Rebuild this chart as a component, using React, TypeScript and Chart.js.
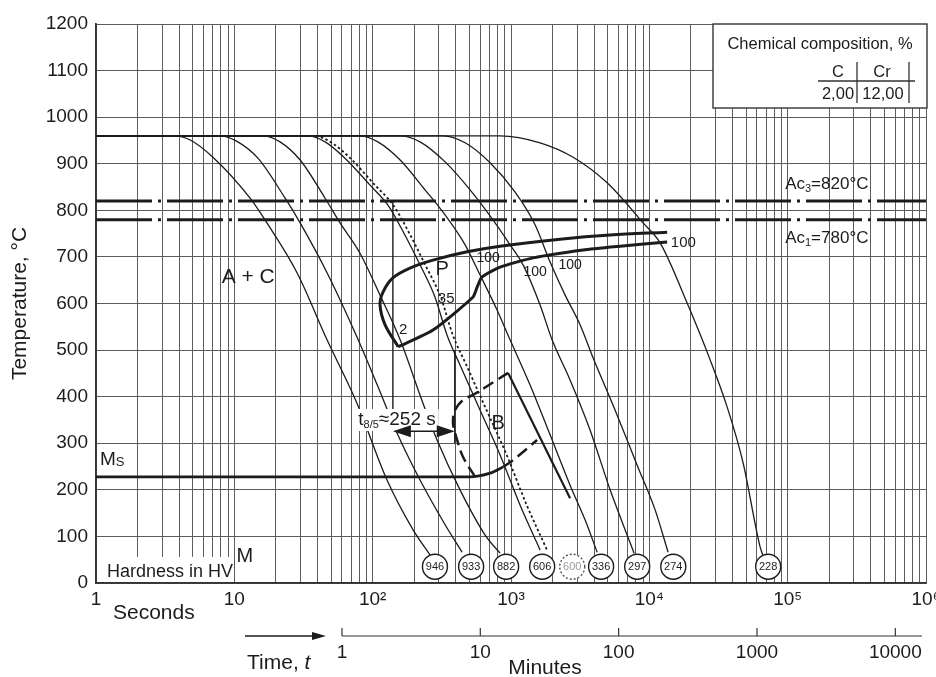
import React, { useEffect, useRef } from 'react';
import { Chart, registerables } from 'chart.js';

Chart.register(...registerables);

const FONT = "'Liberation Sans', Arial, Helvetica, sans-serif";
const NARROW = "'Liberation Sans Narrow', 'Liberation Sans', Arial, sans-serif";
const INK = '#1c1c1c';
const GRID = '#5c5c5c';

// ---------- data : time [s], temperature [°C] ----------
const curve946: [number, number][] = [[1, 960], [3.7, 960], [4.8, 951], [7.0, 914], [13, 826], [17.2, 773], [28.4, 666], [46.8, 522], [77, 386], [127, 221], [196, 114], [260, 60]];
const curve933: [number, number][] = [[1, 960], [7.9, 960], [10.3, 949], [14.8, 912], [23.3, 826], [29.9, 773], [46.8, 666], [77, 528], [108, 425], [150, 322], [220, 221], [334, 125], [443, 66]];
const curve882: [number, number][] = [[1, 960], [16.1, 960], [21.4, 947], [29.9, 908], [45.3, 826], [58.1, 773], [81, 708], [113, 618], [158, 522], [231, 386], [292, 307], [428, 200], [650, 103], [834, 64]];
const curve606: [number, number][] = [[1, 960], [34.1, 960], [45.3, 947], [63.1, 912], [95.8, 854], [129, 811], [171, 747], [220, 683], [282, 614], [345, 532], [428, 468], [598, 371], [834, 275], [1164, 167], [1623, 71]];
const curve600: [number, number][] = [[1, 960], [37.2, 960], [49.4, 947], [68.8, 912], [104, 854], [141, 811], [187, 747], [240, 683], [310, 614], [380, 532], [475, 468], [666, 371], [930, 275], [1300, 167], [1820, 71]];
const curve336: [number, number][] = [[1, 960], [81, 960], [109, 947], [158, 908], [239, 844], [334, 790], [466, 726], [598, 661], [793, 586], [985, 522], [1374, 425], [1917, 318], [2673, 210], [3436, 135], [4197, 66]];
const curve297: [number, number][] = [[1, 960], [158, 960], [220, 947], [334, 904], [506, 844], [743, 779], [985, 726], [1223, 683], [1623, 597], [1982, 522], [2673, 436], [3733, 328], [5207, 200], [6469, 125], [7766, 64]];
const curve274: [number, number][] = [[1, 960], [323, 960], [466, 945], [706, 902], [1071, 839], [1493, 769], [1917, 689], [2462, 618], [3162, 554], [3926, 483], [5660, 371], [8163, 253], [11010, 157], [13670, 66]];
const curve228: [number, number][] = [[1, 960], [834, 960], [1623, 945], [2813, 914], [4955, 859], [9016, 773], [11970, 730], [18760, 601], [27520, 479], [36500, 378], [47620, 258], [63270, 77], [66500, 58]];

const hardnessLabels = ['946', '933', '882', '606', '600', '336', '297', '274', '228'];
const hardnessTimes = [282, 515, 922, 1680, 2770, 4480, 8170, 14900, 72300];
const hardnessDotted = [false, false, false, false, true, false, false, false, false];
const hardnessTemp = 35;

const ac3Temp = 820;
const ac1Temp = 780;

const pearliteStart: [number, number][] = [[153, 507], [123, 554], [113, 597], [119, 625], [140, 655], [186, 676], [273, 693], [482, 711], [834, 723], [2265, 738], [5207, 747], [13450, 753]];
const pearliteFinish: [number, number][] = [[153, 507], [273, 543], [532, 614], [569, 635], [618, 657], [834, 678], [1446, 698], [3320, 715], [6151, 723], [13450, 732]];

const msLine: [number, number][] = [[1, 228], [500, 228], [706, 236], [877, 249]];
const msDashed: [number, number][] = [[877, 249], [1036, 264], [1544, 307]];
const bainiteStart: [number, number][] = [[550, 228], [451, 270], [408, 307], [381, 343], [394, 371], [451, 393], [532, 404], [793, 436], [953, 451]];
const bainiteEnd: [number, number][] = [[953, 451], [2673, 182]];

const t85Left: [number, number][] = [[140, 820], [140, 345]];
const t85Right: [number, number][] = [[392, 500], [392, 300]];
const t85Arrow = { from: 140, to: 392, temp: 326 };

const xTickLabels: Record<string, string> = { '1': '1', '10': '10', '100': '10²', '1000': '10³', '10000': '10⁴', '100000': '10⁵', '1000000': '10⁶' };
const minuteTicks = [1, 10, 100, 1000, 10000];
const minuteTickLabels = ['1', '10', '100', '1000', '10000'];
const secondsPerMinute = 60;

const regionLabels = [
  { text: 'A + C', t: 12.6, T: 657, size: 21 },
  { text: 'P', t: 318, T: 672, size: 20 },
  { text: 'B', t: 807, T: 343, size: 20 },
  { text: '35', t: 340, T: 610, size: 15 },
  { text: '2', t: 166, T: 543, size: 15 },
  { text: '100', t: 683, T: 698, size: 14 },
  { text: '100', t: 1493, T: 668, size: 14 },
  { text: '100', t: 2673, T: 683, size: 14 },
];

// ---------- helpers ----------
type Part = { t: string; size: number; dy?: number; italic?: boolean };
function drawRich(ctx: CanvasRenderingContext2D, parts: Part[], x: number, y: number, align: 'left' | 'center' | 'right' = 'left') {
  let w = 0;
  for (const p of parts) {
    ctx.font = `${p.italic ? 'italic ' : ''}${p.size}px ${FONT}`;
    w += ctx.measureText(p.t).width;
  }
  let cx = align === 'left' ? x : align === 'center' ? x - w / 2 : x - w;
  ctx.textAlign = 'left';
  ctx.textBaseline = 'middle';
  for (const p of parts) {
    ctx.font = `${p.italic ? 'italic ' : ''}${p.size}px ${FONT}`;
    ctx.fillText(p.t, cx, y + (p.dy || 0));
    cx += ctx.measureText(p.t).width;
  }
  return w;
}

const overlayPlugin = {
  id: 'overlay',
  afterDraw(chart: any) {
    const { ctx, chartArea: ca } = chart;
    const xs = chart.scales.x;
    const ys = chart.scales.y;
    const px = (t: number) => xs.getPixelForValue(t);
    const py = (v: number) => ys.getPixelForValue(v);
    ctx.save();

    // caption area bottom-left
    ctx.fillStyle = '#fff';
    const hy = py(56);
    ctx.fillRect(ca.left + 1, hy, px(10) - ca.left - 2, ca.bottom - hy - 1);
    ctx.fillStyle = INK;
    drawRich(ctx, [{ t: 'Hardness in HV', size: 18 }], ca.left + 11, py(24), 'left');
    drawRich(ctx, [{ t: 'M', size: 20 }], px(11.9), py(57), 'center');

    // region labels
    for (const l of regionLabels) drawRich(ctx, [{ t: l.text, size: l.size }], px(l.t), py(l.T), 'center');
    drawRich(ctx, [{ t: '100', size: 15 }], px(14300), py(730), 'left');

    // Ms
    drawRich(ctx, [{ t: 'M', size: 19 }, { t: 'S', size: 13, dy: 3 }], ca.left + 4, py(265), 'left');

    // Ac labels
    drawRich(ctx, [{ t: 'Ac', size: 17 }, { t: '3', size: 11, dy: 5 }, { t: '=820°C', size: 17 }], px(95900), py(ac3Temp + 36), 'left');
    drawRich(ctx, [{ t: 'Ac', size: 17 }, { t: '1', size: 11, dy: 5 }, { t: '=780°C', size: 17 }], px(95900), py(ac1Temp - 39), 'left');

    // t8/5 annotation
    const ty = py(350);
    const tparts: Part[] = [{ t: 't', size: 19 }, { t: '8/5', size: 11, dy: 5 }, { t: '≈252 s', size: 19 }];
    let tw = 0;
    for (const p of tparts) { ctx.font = `${p.size}px ${FONT}`; tw += ctx.measureText(p.t).width; }
    const tcx = px(150);
    ctx.fillStyle = '#fff';
    ctx.fillRect(tcx - tw / 2 - 3, ty - 11, tw + 6, 22);
    ctx.fillStyle = INK;
    drawRich(ctx, tparts, tcx, ty, 'center');
    const ay = py(t85Arrow.temp);
    const ax1 = px(t85Arrow.from), ax2 = px(t85Arrow.to);
    ctx.strokeStyle = INK;
    ctx.lineWidth = 1.5;
    ctx.beginPath(); ctx.moveTo(ax1 + 12, ay); ctx.lineTo(ax2 - 12, ay); ctx.stroke();
    ctx.beginPath(); ctx.moveTo(ax1, ay); ctx.lineTo(ax1 + 18, ay - 6); ctx.lineTo(ax1 + 18, ay + 6); ctx.closePath(); ctx.fill();
    ctx.beginPath(); ctx.moveTo(ax2, ay); ctx.lineTo(ax2 - 18, ay - 6); ctx.lineTo(ax2 - 18, ay + 6); ctx.closePath(); ctx.fill();

    // hardness circles
    const cy = py(hardnessTemp);
    hardnessTimes.forEach((t, i) => {
      const cx = px(t);
      ctx.beginPath();
      ctx.arc(cx, cy, 12.5, 0, Math.PI * 2);
      ctx.fillStyle = '#fff';
      ctx.fill();
      ctx.lineWidth = 1.4;
      ctx.strokeStyle = hardnessDotted[i] ? '#555' : INK;
      ctx.setLineDash(hardnessDotted[i] ? [2, 2] : []);
      ctx.stroke();
      ctx.setLineDash([]);
      ctx.fillStyle = hardnessDotted[i] ? '#9a9a9a' : INK;
      ctx.font = `11px ${NARROW}`;
      ctx.textAlign = 'center';
      ctx.textBaseline = 'middle';
      ctx.fillText(hardnessLabels[i], cx, cy + 0.5);
    });

    // chemical composition box
    const bx = ca.right - 213, by = ca.top, bw = 214, bh = 84;
    ctx.fillStyle = '#fff';
    ctx.fillRect(bx, by, bw, bh);
    ctx.strokeStyle = '#333';
    ctx.lineWidth = 1.4;
    ctx.strokeRect(bx, by, bw, bh);
    ctx.fillStyle = INK;
    drawRich(ctx, [{ t: 'Chemical composition, %', size: 16.5 }], bx + 107, by + 20, 'center');
    drawRich(ctx, [{ t: 'C', size: 16.5 }], bx + 125, by + 48, 'center');
    drawRich(ctx, [{ t: 'Cr', size: 16.5 }], bx + 169, by + 48, 'center');
    drawRich(ctx, [{ t: '2,00', size: 16.5 }], bx + 125, by + 70, 'center');
    drawRich(ctx, [{ t: '12,00', size: 16.5 }], bx + 170, by + 70, 'center');
    ctx.lineWidth = 1.3;
    ctx.beginPath();
    ctx.moveTo(bx + 105, by + 57); ctx.lineTo(bx + 202, by + 57);
    ctx.moveTo(bx + 144, by + 38); ctx.lineTo(bx + 144, by + 79);
    ctx.moveTo(bx + 196, by + 38); ctx.lineTo(bx + 196, by + 79);
    ctx.stroke();

    // secondary (minutes) axis
    const my = ca.bottom + 53;
    ctx.strokeStyle = '#333';
    ctx.lineWidth = 1.2;
    ctx.beginPath();
    ctx.moveTo(px(minuteTicks[0] * secondsPerMinute), my);
    ctx.lineTo(ca.right - 4, my);
    minuteTicks.forEach((m) => {
      const mx = px(m * secondsPerMinute);
      ctx.moveTo(mx, my); ctx.lineTo(mx, my - 8);
    });
    ctx.stroke();
    ctx.fillStyle = INK;
    minuteTicks.forEach((m, i) => drawRich(ctx, [{ t: minuteTickLabels[i], size: 19 }], px(m * secondsPerMinute), my + 17, 'center'));
    drawRich(ctx, [{ t: 'Minutes', size: 21 }], ca.left + 449, ca.bottom + 85, 'center');
    drawRich(ctx, [{ t: 'Seconds', size: 21 }], ca.left + 17, ca.bottom + 30, 'left');
    drawRich(ctx, [{ t: 'Time, ', size: 21 }, { t: 't', size: 21, italic: true }], ca.left + 151, ca.bottom + 80, 'left');
    ctx.lineWidth = 1.6;
    ctx.strokeStyle = INK;
    ctx.beginPath(); ctx.moveTo(ca.left + 149, my); ctx.lineTo(ca.left + 222, my); ctx.stroke();
    ctx.beginPath(); ctx.moveTo(ca.left + 230, my); ctx.lineTo(ca.left + 216, my - 4); ctx.lineTo(ca.left + 216, my + 4); ctx.closePath(); ctx.fill();

    ctx.restore();
  },
};

const toXY = (pts: [number, number][]) => pts.map(([x, y]) => ({ x, y }));

function lineDS(pts: [number, number][], extra: any = {}) {
  return {
    data: toXY(pts),
    borderColor: INK,
    backgroundColor: INK,
    borderWidth: 1.3,
    pointRadius: 0,
    fill: false,
    cubicInterpolationMode: 'monotone',
    ...extra,
  };
}

export default function App() {
  const ref = useRef<HTMLCanvasElement>(null);
  useEffect(() => {
    const canvas = ref.current;
    if (!canvas) return;
    const xGrid: number[] = [];
    for (let e = 0; e < 6; e++) for (let m = 1; m < 10; m++) xGrid.push(m * Math.pow(10, e));
    xGrid.push(1e6);

    const coolingCurves = [curve946, curve933, curve882, curve606, curve336, curve297, curve274, curve228];
    const datasets: any[] = [
      ...coolingCurves.map((c) => lineDS(c)),
      lineDS(curve600, { borderDash: [2.5, 2.5], borderWidth: 1.8 }),
      lineDS([[1, ac3Temp], [1e6, ac3Temp]], { borderDash: [56, 6, 3, 6], borderWidth: 3, cubicInterpolationMode: 'default' }),
      lineDS([[1, ac1Temp], [1e6, ac1Temp]], { borderDash: [56, 6, 3, 6], borderWidth: 3, cubicInterpolationMode: 'default' }),
      lineDS(pearliteStart, { borderWidth: 3, cubicInterpolationMode: 'default', tension: 0.35 }),
      lineDS(pearliteFinish, { borderWidth: 3, cubicInterpolationMode: 'default', tension: 0.2 }),
      lineDS(msLine, { borderWidth: 2.8 }),
      lineDS(msDashed, { borderWidth: 2.5, borderDash: [12, 6] }),
      lineDS(bainiteStart, { borderWidth: 2.5, borderDash: [12, 6], cubicInterpolationMode: 'default', tension: 0.35 }),
      lineDS(bainiteEnd, { borderWidth: 2.2 }),
      lineDS(t85Left, { borderWidth: 1.4 }),
      lineDS(t85Right, { borderWidth: 1.4 }),
    ];

    const chart = new Chart(canvas, {
      type: 'line',
      data: { datasets },
      plugins: [overlayPlugin],
      options: {
        responsive: false,
        animation: false,
        devicePixelRatio: 1,
        layout: { padding: { left: 0, top: 24, right: 10, bottom: 0 } },
        plugins: { legend: { display: false }, tooltip: { enabled: false }, title: { display: false } },
        elements: { point: { radius: 0 } },
        scales: {
          x: {
            type: 'logarithmic',
            min: 1,
            max: 1e6,
            afterBuildTicks: (s: any) => { s.ticks = xGrid.map((v) => ({ value: v })); },
            afterFit: (s: any) => { s.height = 94; s.paddingLeft = 0; s.paddingRight = 0; },
            grid: { color: GRID, lineWidth: 1, drawTicks: false },
            border: { color: '#333', width: 1.8 },
            ticks: {
              autoSkip: false,
              maxRotation: 0,
              minRotation: 0,
              padding: 5,
              color: INK,
              font: { family: FONT, size: 19 },
              callback: (v: any) => xTickLabels[String(v)] ?? '',
            },
          },
          y: {
            type: 'linear',
            min: 0,
            max: 1200,
            afterFit: (s: any) => { s.width = 96; s.paddingTop = 0; s.paddingBottom = 0; },
            grid: { color: GRID, lineWidth: 1, drawTicks: false },
            border: { color: '#333', width: 1.8 },
            ticks: { stepSize: 100, padding: 8, color: INK, font: { family: FONT, size: 19 }, callback: (v: any) => String(v) },
            title: { display: true, text: 'Temperature, °C', color: INK, font: { family: FONT, size: 21 }, padding: { top: 8, bottom: 0 } },
          },
        },
      } as any,
    } as any);
    return () => chart.destroy();
  }, []);
  return (
    <div style={{ position: 'absolute', left: 0, top: 0, width: 936, height: 677, background: '#fff' }}>
      <canvas ref={ref} width={936} height={677} style={{ display: 'block', width: 936, height: 677 }} />
    </div>
  );
}
